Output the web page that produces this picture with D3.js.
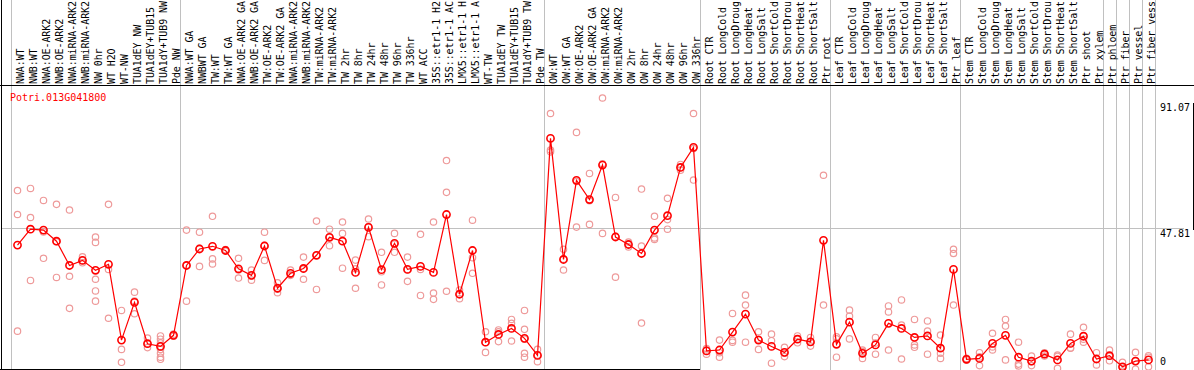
<!DOCTYPE html>
<html>
<head>
<meta charset="utf-8">
<script src="https://cdn.jsdelivr.net/npm/d3@7"></script>
<style>
  html, body { margin: 0; padding: 0; background: #fff; }
  svg { display: block; }
  text { font-family: "DejaVu Sans Mono", monospace; font-size: 10px; }
</style>
</head>
<body>
<svg id="chart" width="1194" height="370"></svg>
<script>
const geneId = "Potri.013G041800";

const categories = [
  "NWA:WT","NWB:WT","NWA:OE-ARK2","NWB:OE-ARK2","NWA:miRNA-ARK2","NWB:miRNA-ARK2","NW 0hr","WT H2O","WT-NW","TUA1dEY NW","TUA1dEY+TUB15","TUA1dY+TUB9 NW","Pde NW",
  "NWA:WT GA","NWBWT GA","TW:WT","TW:WT GA","NWA:OE-ARK2 GA","NWB:OE-ARK2 GA","TW:OE-ARK2","TW:OE-ARK2 GA","NWA:miRNA-ARK2","NWB:miRNA-ARK2","TW:miRNA-ARK2","TW:miRNA-ARK2","TW 2hr","TW 8hr","TW 24hr","TW 48hr","TW 96hr","TW 336hr","WT ACC","35S::etr1-1 H2","35S::etr1-1 AC","LMX5::etr1-1 H","LMX5::etr1-1 A","WT-TW","TUA1dEY TW","TUA1dEY+TUB15","TUA1dY+TUB9 TW","Pde TW",
  "OW:WT","OW:WT GA","OW:OE-ARK2","OW:OE-ARK2 GA","OW:miRNA-ARK2","OW:miRNA-ARK2","OW 2hr","OW 8hr","OW 24hr","OW 48hr","OW 96hr","OW 336hr",
  "Root CTR","Root LongCold","Root LongDroug","Root LongHeat","Root LongSalt","Root ShortCold","Root ShortDrou","Root ShortHeat","Root ShortSalt","Ptr root",
  "Leaf CTR","Leaf LongCold","Leaf LongDroug","Leaf LongHeat","Leaf LongSalt","Leaf ShortCold","Leaf ShortDrou","Leaf ShortHeat","Leaf ShortSalt","Ptr leaf",
  "Stem CTR","Stem LongCold","Stem LongDroug","Stem LongHeat","Stem LongSalt","Stem ShortCold","Stem ShortDrou","Stem ShortHeat","Stem ShortSalt","Ptr shoot","Ptr xylem",
  "Ptr phloem","Ptr fiber","Ptr vessel","Ptr fiber vess"
];

// number of categories in each group (separated by vertical grid lines)
const groupSizes = [13, 28, 12, 10, 10, 11, 1, 1, 1, 1];

const meanValues = [
  42, 47.3, 47, 43.3, 35.2, 36.9, 33.6, 35.6, 10.3, 22.9, 9.1, 8.2, 11.9,
  35.2, 40.7, 41.6, 40.2, 34.1, 31.9, 41.7, 27.6, 32.6, 34.2, 38.6, 44.6, 43.3, 32.9, 47.9, 33.8, 42.6, 33.9, 34.9, 32.9, 52.2, 25.6, 40.2, 9.6, 12.2, 14.2, 10.9, 5.2,
  77.6, 37.2, 63.6, 57.2, 68.7, 44.7, 42.2, 39.2, 47, 51.8, 67.9, 74.6,
  6.7, 7, 13, 19, 10.3, 8.2, 6.2, 10.6, 9.7, 43.6,
  8.9, 16.3, 5.9, 8.7, 15.9, 14.2, 11.2, 11.7, 7.6, 33.9,
  3.9, 4.2, 9.2, 11.9, 4.6, 3.3, 5.6, 3.7, 9.2, 11.6, 4,
  5.1, 1.4, 3.3, 3.7
];

const replicates = [
  [60.2, 52.2, 13.3], [60.9, 51.2, 30.2], [56.9, 46.4, 37.6], [55.6, 43.1, 31.2], [53.7, 31.6, 20.9],
  [38.1, 36.9, 36.1], [44.7, 42.9, 30.6, 26.7, 23.3], [55.6, 33.9, 17.6], [20.2, 7.2, 2.9], [26.3, 23.3, 19.1],
  [11, 9.1, 7.8], [11.7, 10.6, 9.4, 8.2, 7.2, 5.9, 4.6, 3.9], [12.3, 11.9, 11.6],
  [47, 35.3, 23.3], [46.3, 40.9, 34.9], [51.6, 37.4, 35.7], [40.5, 40.2, 40], [37.6, 33.7, 31],
  [33.7, 31.7, 30.3], [46.3, 41.9, 36.9], [29.4, 27.3, 26.1], [33.7, 32.2, 31.9], [38, 34, 30.6],
  [50, 38.6, 27.2], [47.3, 44.7, 41.8], [49.7, 45.9, 34.3], [37, 34.1, 27.6], [50.7, 48.2, 44.8],
  [39.6, 33.1, 28.7], [45.9, 42.3, 39.6], [38, 33.8, 29.9], [45.6, 33.9, 25.2], [49.7, 26, 23.9],
  [70.2, 59.6, 26.6], [27, 25.7, 24.1], [50.3, 37.8, 32.6], [13.1, 9.5, 6.2], [13.7, 13.1, 9.8],
  [17.2, 15.9, 10], [20.2, 13.9, 10.6, 5.9, 4.6], [7.2, 5.3, 3.1],
  [85.9, 73.7, 73.1], [40.6, 37.3, 33.7], [79.6, 63.2, 48], [65.9, 56.8, 48.9], [91.07, 69.1, 45.9],
  [57.9, 44.9, 31.3], [43, 42.2, 41.4], [60.7, 41.7, 16], [51.6, 44.4, 43.9], [57.6, 50.5, 47.3],
  [68.9, 67.9, 67], [85.9, 74.2, 63.7],
  [7.5, 7, 5.6], [10.3, 6.1, 4.6], [19.2, 10.2, 9.6], [25.3, 22, 9.6], [13.1, 10.6, 7.2],
  [12.3, 10.1, 2.6], [7.9, 5.9, 4.8], [11.7, 10.7, 9.4], [11.2, 9.6, 8.3], [65.3, 22],
  [11.4, 10.7, 4.6], [20.3, 18.3, 10.7], [7, 6.5, 4.2], [11.2, 9.3, 5.6], [21.7, 19.7, 7],
  [23.7, 15.3, 4], [17.2, 8.7, 7.9], [16.7, 13.3, 5.6], [12, 5.9, 4.2], [40.6, 39.2, 22],
  [4.2, 3.8, 3.7], [6.1, 4.7, 1.8], [12.6, 8, 7], [17.2, 15, 3.7], [9.6, 2.3, 1.7],
  [5, 3.1, 1.8], [6.1, 5.7, 5], [5.3, 4.9, 0.9], [12.3, 7.7, 7.6], [14.6, 10.6, 9.6], [6.1, 3.9, 2],
  [7, 4.9, 3.4], [2.9, 1.3, 0], [6.2, 3.3, 0.6], [5.1, 4.6, 1.4]
];

const yTickValues = [0, 47.81, 91.07];
const yTickLabels = ["0", "47.81", "91.07"];

// ---- layout ----
const W = 1194, H = 370;
const headerBottom = 85;
const svg = d3.select("#chart");

const x = d3.scaleBand()
  .domain(d3.range(categories.length))
  .range([11, 11 + 13 * categories.length])
  .padding(0);

const y = d3.scaleLinear().domain([0, 91.07]).range([371, 98]);

const grey = "#c0c0c0";

// group boundaries
const bounds = [0];
groupSizes.forEach(s => bounds.push(bounds[bounds.length - 1] + s));
const boundX = bounds.map(b => b < categories.length ? x(b) : x(categories.length - 1) + x.bandwidth());

svg.append("g").selectAll("line").data(boundX).join("line")
  .attr("x1", d => d + 0.5).attr("x2", d => d + 0.5)
  .attr("y1", 0).attr("y2", H)
  .attr("stroke", grey).attr("stroke-width", 1);

// horizontal grid at middle tick
svg.append("line")
  .attr("x1", 1).attr("x2", 1184)
  .attr("y1", Math.round(y(47.81)) + 0.5).attr("y2", Math.round(y(47.81)) + 0.5)
  .attr("stroke", grey).attr("stroke-width", 1);

// frame lines
svg.append("line").attr("x1", 0).attr("x2", W).attr("y1", headerBottom + 0.5).attr("y2", headerBottom + 0.5)
  .attr("stroke", "#000").attr("stroke-width", 1);
svg.append("line").attr("x1", 1.5).attr("x2", 1.5).attr("y1", 0).attr("y2", H)
  .attr("stroke", "#000").attr("stroke-width", 1);
svg.append("line").attr("x1", 0).attr("x2", boundX[3]).attr("y1", 369.5).attr("y2", 369.5)
  .attr("stroke", "#000").attr("stroke-width", 1);
svg.append("line").attr("x1", 1193.5).attr("x2", 1193.5)
  .attr("y1", Math.round(y(91.07)) + 5).attr("y2", Math.round(y(47.81)) + 2)
  .attr("stroke", "#000").attr("stroke-width", 1);

// header labels
svg.append("g").selectAll("text").data(categories).join("text")
  .attr("transform", (d, i) => `translate(${x(i) + 12.5},${headerBottom - 1}) rotate(-90)`)
  .attr("fill", "#000")
  .attr("letter-spacing", "-0.1")
  .text(d => d);

// gene id
svg.append("text").attr("x", 10).attr("y", 101).attr("fill", "#ff0000").text(geneId);

// y tick labels
const tickDy = [-6, 9, 13];
svg.append("g").selectAll("text").data(yTickValues).join("text")
  .attr("x", 1160)
  .attr("y", (d, i) => y(d) + tickDy[i])
  .attr("fill", "#000")
  .text((d, i) => yTickLabels[i]);

// replicate points
const repData = [];
replicates.forEach((arr, i) => arr.forEach(v => repData.push({ i, v })));
svg.append("g").selectAll("circle").data(repData).join("circle")
  .attr("cx", d => x(d.i) + x.bandwidth() / 2)
  .attr("cy", d => y(d.v))
  .attr("r", 3.2)
  .attr("fill", "none")
  .attr("stroke", "#ee9a9a")
  .attr("stroke-width", 1.2);

// mean line
const line = d3.line()
  .x((d, i) => x(i) + x.bandwidth() / 2)
  .y(d => y(d));
svg.append("path").datum(meanValues)
  .attr("d", line)
  .attr("fill", "none")
  .attr("stroke", "#ff0000")
  .attr("stroke-width", 1.2);

svg.append("g").selectAll("circle").data(meanValues).join("circle")
  .attr("cx", (d, i) => x(i) + x.bandwidth() / 2)
  .attr("cy", d => y(d))
  .attr("r", 3.6)
  .attr("fill", "none")
  .attr("stroke", "#ff0000")
  .attr("stroke-width", 1.6);
</script>
</body>
</html>
